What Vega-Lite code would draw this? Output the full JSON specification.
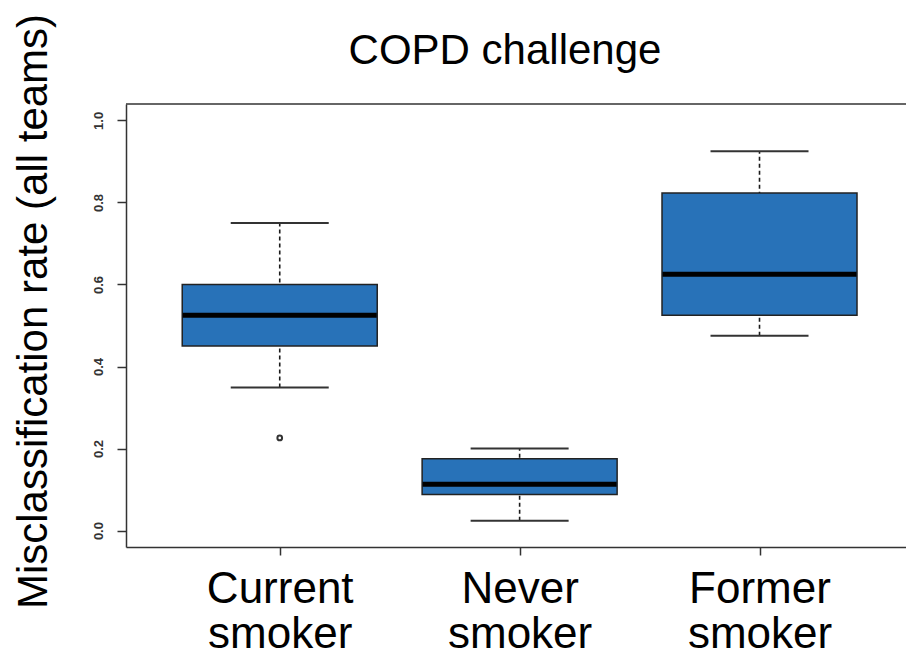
{
  "$schema": "https://vega.github.io/schema/vega-lite/v6.json",
  "autosize": "none",
  "width": 780,
  "height": 443,
  "padding": {"left": 126, "top": 104, "right": 0, "bottom": 110},
  "background": "white",
  "config": {
    "view": {"stroke": null},
    "font": "Liberation Sans"
  },
  "title": {
    "text": "COPD challenge",
    "fontSize": 42,
    "font": "Liberation Sans",
    "fontWeight": "normal",
    "color": "black",
    "anchor": "middle",
    "dx": -11,
    "baseline": "alphabetic",
    "offset": 0,
    "dy": 93
  },
  "datasets": {
    "boxes": [
      {"group": "Current smoker", "x": 1, "lower": 0.349, "q1": 0.45, "median": 0.525, "q3": 0.6, "upper": 0.75},
      {"group": "Never smoker", "x": 2, "lower": 0.024, "q1": 0.088, "median": 0.113, "q3": 0.175, "upper": 0.2},
      {"group": "Former smoker", "x": 3, "lower": 0.475, "q1": 0.525, "median": 0.625, "q3": 0.823, "upper": 0.925}
    ],
    "outliers": [
      {"group": "Current smoker", "x": 1, "value": 0.226}
    ]
  },
  "layer": [
    {
      "data": {"name": "boxes"},
      "mark": {"type": "rule", "color": "#1a1a1a", "strokeWidth": 1.6, "strokeDash": [4, 3]},
      "encoding": {
        "x": {
          "field": "x",
          "type": "quantitative",
          "scale": {"domain": [0.38, 3.5898], "nice": false, "zero": false},
          "axis": {
            "values": [1, 2, 3],
            "title": null,
            "grid": false,
            "labelExpr": "datum.value == 1 ? ['Current','smoker'] : datum.value == 2 ? ['Never','smoker'] : ['Former','smoker']",
            "labelFontSize": 44,
            "labelFont": "Liberation Sans",
            "labelColor": "black",
            "labelLineHeight": 45,
            "labelPadding": 12,
            "labelBaseline": "top",
            "labelAlign": "center",
            "labelFlush": false,
            "labelOverlap": false,
            "tickSize": 8,
            "tickColor": "#333333",
            "tickWidth": 1.5,
            "domainColor": "#333333",
            "domainWidth": 1.5
          }
        },
        "y": {
          "field": "lower",
          "type": "quantitative",
          "scale": {"domain": [-0.04, 1.04], "nice": false, "zero": false},
          "axis": {
            "values": [0, 0.2, 0.4, 0.6, 0.8, 1.0],
            "format": ".1f",
            "grid": false,
            "title": "Misclassification rate (all teams)",
            "titleFontSize": 42,
            "titleFont": "Liberation Sans",
            "titleFontWeight": "normal",
            "titleColor": "black",
            "titleAngle": 270,
            "titleX": -80,
            "titleY": 207,
            "titleAlign": "center",
            "titleBaseline": "alphabetic",
            "labelAngle": 270,
            "labelAlign": "center",
            "labelBaseline": "bottom",
            "labelFontSize": 13,
            "labelFontWeight": "bold",
            "labelColor": "#333333",
            "labelPadding": 12,
            "tickSize": 9,
            "tickColor": "#333333",
            "tickWidth": 1.5,
            "domainColor": "#333333",
            "domainWidth": 1.5
          }
        },
        "y2": {"field": "upper"}
      }
    },
    {
      "data": {"name": "boxes"},
      "mark": {"type": "tick", "orient": "horizontal", "size": 98, "thickness": 2, "color": "#333333", "opacity": 1},
      "encoding": {
        "x": {"field": "x", "type": "quantitative"},
        "y": {"field": "upper", "type": "quantitative"}
      }
    },
    {
      "data": {"name": "boxes"},
      "mark": {"type": "tick", "orient": "horizontal", "size": 98, "thickness": 2, "color": "#333333", "opacity": 1},
      "encoding": {
        "x": {"field": "x", "type": "quantitative"},
        "y": {"field": "lower", "type": "quantitative"}
      }
    },
    {
      "data": {"name": "boxes"},
      "mark": {"type": "bar", "orient": "vertical", "size": 195, "fill": "#2872b8", "stroke": "#222222", "strokeWidth": 1.5, "opacity": 1},
      "encoding": {
        "x": {"field": "x", "type": "quantitative"},
        "y": {"field": "q1", "type": "quantitative"},
        "y2": {"field": "q3"}
      }
    },
    {
      "data": {"name": "boxes"},
      "mark": {"type": "tick", "orient": "horizontal", "size": 194, "thickness": 5, "color": "black", "opacity": 1},
      "encoding": {
        "x": {"field": "x", "type": "quantitative"},
        "y": {"field": "median", "type": "quantitative"}
      }
    },
    {
      "data": {"name": "outliers"},
      "mark": {"type": "point", "shape": "circle", "filled": false, "size": 22, "stroke": "#333333", "strokeWidth": 2, "opacity": 1},
      "encoding": {
        "x": {"field": "x", "type": "quantitative"},
        "y": {"field": "value", "type": "quantitative"}
      }
    },
    {
      "data": {"values": [{}]},
      "mark": {"type": "rule", "color": "#333333", "strokeWidth": 1.5},
      "encoding": {
        "y": {"datum": 1.04}
      }
    }
  ]
}
